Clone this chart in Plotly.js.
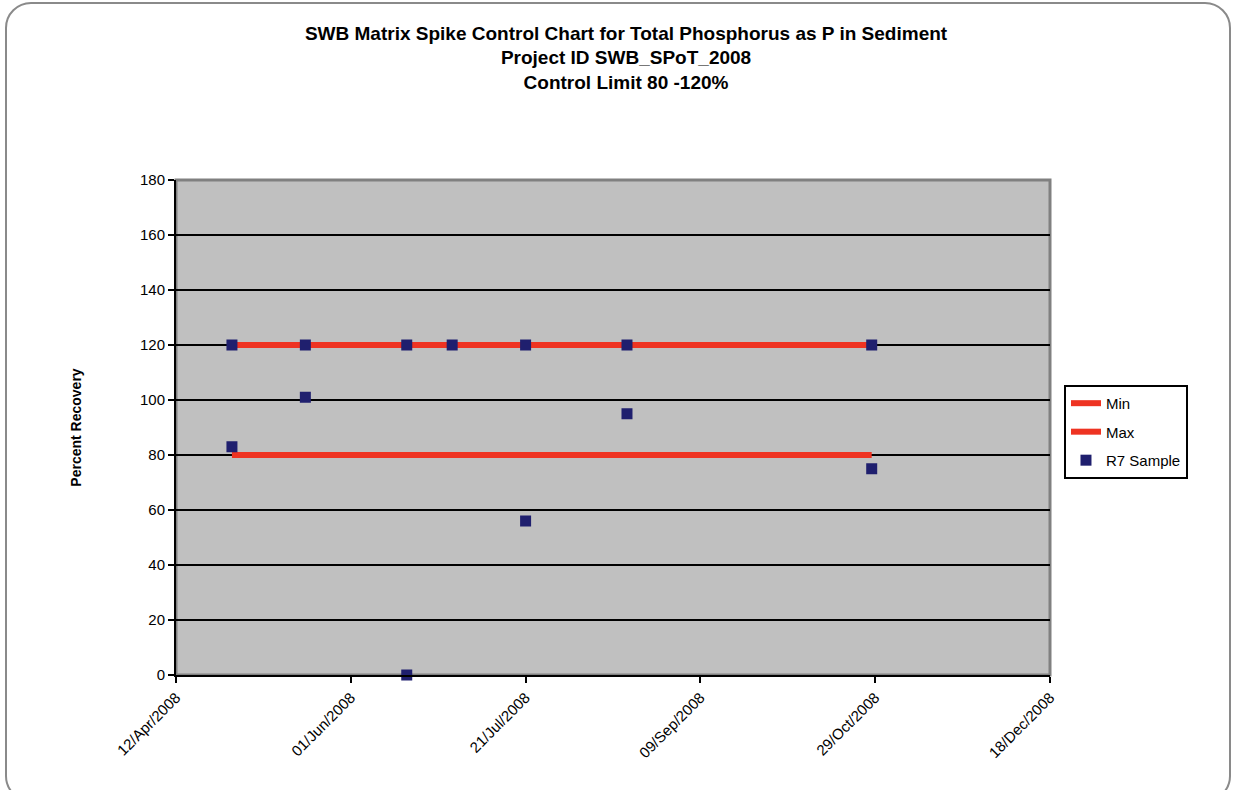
<!DOCTYPE html>
<html>
<head>
<meta charset="utf-8">
<script src="https://cdn.plot.ly/plotly-3.0.1.min.js"></script>
<style>
  html, body { margin: 0; padding: 0; background: #ffffff; }
  #wrap { position: relative; width: 1236px; height: 790px; }
  #chart { position: absolute; left: 0; top: 0; width: 1236px; height: 790px; }
  #frame { position: absolute; left: 5px; top: 2px; width: 1226px; height: 800px;
           border: 2px solid #8a8a8a; border-radius: 26px; box-sizing: border-box; pointer-events: none; }
</style>
</head>
<body>
<div id="wrap">
  <div id="chart"></div>
  <div id="frame"></div>
</div>
<script>
// ---- Data ----
const limitDates = ['2008-04-28', '2008-05-19', '2008-06-17', '2008-06-30', '2008-07-21', '2008-08-19', '2008-10-28'];
const minLimit = [80, 80, 80, 80, 80, 80, 80];
const maxLimit = [120, 120, 120, 120, 120, 120, 120];

const sampleDates = ['2008-04-28', '2008-04-28', '2008-05-19', '2008-05-19', '2008-06-17', '2008-06-17',
                     '2008-06-30', '2008-07-21', '2008-07-21', '2008-08-19', '2008-08-19', '2008-10-28', '2008-10-28'];
const sampleValues = [120, 83, 120, 101, 120, 0, 120, 120, 56, 120, 95, 120, 75];

const xTickVals = ['2008-04-12', '2008-06-01', '2008-07-21', '2008-09-09', '2008-10-29', '2008-12-18'];
const xTickText = ['12/Apr/2008', '01/Jun/2008', '21/Jul/2008', '09/Sep/2008', '29/Oct/2008', '18/Dec/2008'];
const yTickVals = [0, 20, 40, 60, 80, 100, 120, 140, 160, 180];

const titleLines = ['SWB Matrix Spike Control Chart for Total Phosphorus as P in Sediment',
                    'Project ID SWB_SPoT_2008',
                    'Control Limit 80 -120%'];

// ---- Traces ----
const red = '#EE3322';
const navy = '#1F1F6E';
const traces = [
  { x: limitDates, y: minLimit, name: 'Min', legendgroup: 'a', mode: 'lines', type: 'scatter',
    line: { color: red, width: 6 }, cliponaxis: false },
  { x: limitDates, y: maxLimit, name: 'Max', legendgroup: 'b', mode: 'lines', type: 'scatter',
    line: { color: red, width: 6 }, cliponaxis: false },
  { x: sampleDates, y: sampleValues, name: 'R7 Sample', legendgroup: 'c', mode: 'markers', type: 'scatter',
    marker: { symbol: 'square', color: navy, size: 11 }, cliponaxis: false }
];

const layout = {
  width: 1236, height: 790,
  paper_bgcolor: 'rgba(0,0,0,0)',
  plot_bgcolor: '#C0C0C0',
  margin: { l: 176, r: 186, t: 180, b: 115 },
  font: { family: 'Liberation Sans, Arial, sans-serif', color: '#000', size: 13 },
  title: {
    text: titleLines.map(s => '<b>' + s + '</b>').join('<br>'),
    font: { size: 19, family: 'Liberation Sans, Arial, sans-serif', color: '#000' },
    x: 0.5065, xref: 'container', xanchor: 'center',
    y: 0.95, yref: 'container', yanchor: 'top'
  },
  xaxis: {
    type: 'date',
    range: ['2008-04-12', '2008-12-18'],
    tickvals: xTickVals, ticktext: xTickText,
    tickangle: -45,
    ticks: 'outside', ticklen: 6, tickwidth: 2, tickcolor: '#000',
    showgrid: false, zeroline: false,
    showline: true, linecolor: '#000', linewidth: 2,
    tickfont: { size: 15 },
    automargin: false
  },
  yaxis: {
    range: [0, 180],
    tickvals: yTickVals,
    ticks: 'outside', ticklen: 6, tickwidth: 2, tickcolor: '#000',
    showgrid: true, gridcolor: '#000', gridwidth: 1.5,
    zeroline: false,
    showline: true, linecolor: '#000', linewidth: 2,
    tickfont: { size: 15 },
    title: { text: '<b>Percent Recovery</b>', font: { size: 14 }, standoff: 55 },
    automargin: false
  },
  legend: {
    x: 1.016, xanchor: 'left', y: 0.586, yanchor: 'top',
    bgcolor: '#ffffff', bordercolor: '#000', borderwidth: 2,
    font: { size: 15 },
    traceorder: 'grouped',
    tracegroupgap: 6
  },
  shapes: [
    { type: 'rect', xref: 'paper', yref: 'paper', x0: 0, x1: 1, y0: 0, y1: 1,
      line: { color: '#808080', width: 3 }, layer: 'below' }
  ]
};

Plotly.newPlot('chart', traces, layout, { displayModeBar: false, staticPlot: true });
</script>
</body>
</html>
